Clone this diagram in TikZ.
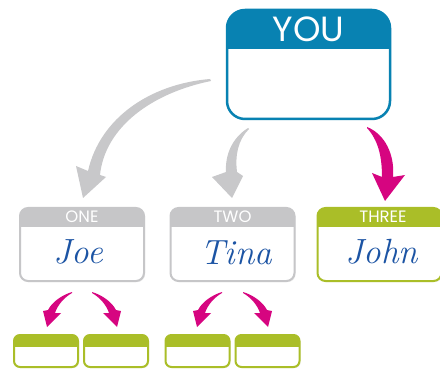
\documentclass[tikz,border=0pt]{standalone}
\usepackage{fontspec}
\newfontfamily\hdrfont{Poppins}
\usetikzlibrary{shadows}
\definecolor{youblue}{RGB}{8,130,178}
\definecolor{taggray}{RGB}{198,198,200}
\definecolor{taggreen}{RGB}{170,190,40}
\definecolor{hotpink}{RGB}{214,5,128}
\definecolor{inkblue}{RGB}{28,84,164}
\definecolor{arrowgray}{RGB}{200,200,202}
\tikzset{
  tagbox/.style 2 args={draw=#1, fill=white, inner sep=0pt,
    drop shadow={opacity=0.12, shadow xshift=1.2pt, shadow yshift=-1.2pt},
    path picture={\fill[#1, sharp corners] ([yshift=2pt]path picture bounding box.north west) rectangle ([yshift=-#2]path picture bounding box.north east);}},
  bigtag/.style={tagbox={#1}{19pt}, line width=2pt, rounded corners=8pt, minimum width=124pt, minimum height=73pt},
  smalltag/.style={tagbox={taggreen}{12pt}, line width=2pt, rounded corners=6pt, minimum width=64pt, minimum height=32pt},
  hdrtext/.style={text=white, inner sep=0pt, font=\hdrfont\fontsize{16.5}{16.5}\selectfont},
  nametext/.style={text=inkblue, inner sep=0pt, font=\itshape\fontsize{35}{35}\selectfont},
  smallswoosh/.pic={\fill[hotpink] (0,-1) .. controls (-10,2) and (-20,9) .. (-24,17) -- (-29,18) -- (-25,34) -- (-11,20) -- (-17,20) .. controls (-14,11) and (-7,4) .. (0,0) -- cycle;}
}
\begin{document}
\begin{tikzpicture}[x=1pt,y=-1pt]
\useasboundingbox (0,0) rectangle (440,369);
% YOU tag
\node[tagbox={youblue}{39pt}, line width=2.5pt, rounded corners=18pt, minimum width=163pt, minimum height=109pt] (you) at (308.5,64.5) {};
\node[text=white, inner sep=0pt, font=\hdrfont\fontsize{35}{35}\selectfont] (youlbl) at (308.5,29.5) {YOU};
% level 1 tags
\node[bigtag=taggray] (one) at (82,244.5) {};
\node[hdrtext] (onelbl) at (82,217) {ONE};
\node[nametext] (joe) at (78,252) {Joe};
\node[bigtag=taggray] (two) at (232.5,244.5) {};
\node[hdrtext] (twolbl) at (232.5,217) {TWO};
\node[nametext] (tina) at (236,253) {Tina};
\node[bigtag=taggreen] (three) at (379.5,244.5) {};
\node[hdrtext] (threelbl) at (383,217) {THREE};
\node[nametext] (john) at (382,252) {John};
% level 2 tags
\node[smalltag] (s1) at (46,351) {};
\node[smalltag] (s2) at (116,351) {};
\node[smalltag] (s3) at (197.5,351) {};
\node[smalltag] (s4) at (267.5,351) {};
% arrows from YOU
\fill[arrowgray] (210,79) .. controls (150,84) and (100,118) .. (88,171) -- (76,166) -- (83,198) -- (106,177) -- (100,175) .. controls (105,127) and (152,93) .. (211,81) -- cycle;
\fill[arrowgray] (248,128) .. controls (232,138) and (225,155) .. (226,172) -- (212,177) -- (232,198) -- (243,176) -- (237,172) .. controls (235,155) and (238,140) .. (249,129) -- cycle;
\fill[hotpink] (367,127) .. controls (385,134) and (395,155) .. (393,177) -- (405,175) -- (385,201) -- (372,173) -- (382,177) .. controls (382,156) and (378,140) .. (367,128) -- cycle;
% arrows to level 2
\pic at (72,293) {smallswoosh};
\pic[xscale=-1] at (92,293) {smallswoosh};
\pic at (222,293) {smallswoosh};
\pic[xscale=-1] at (243,293) {smallswoosh};
\end{tikzpicture}
\end{document}
